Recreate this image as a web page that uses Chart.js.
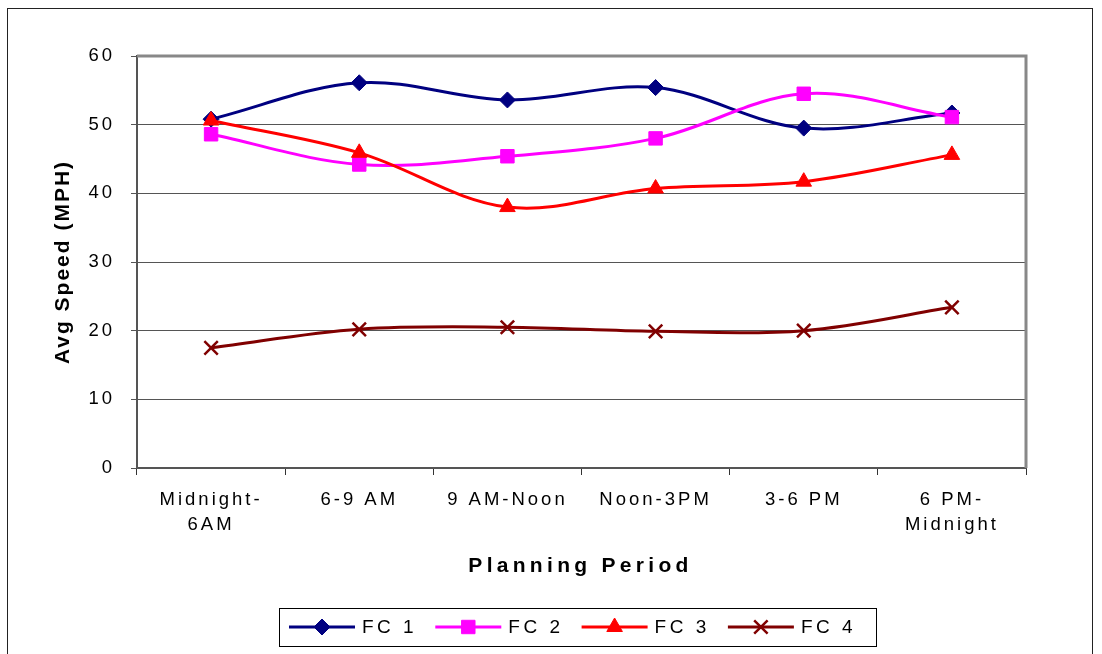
<!DOCTYPE html>
<html>
<head>
<meta charset="utf-8">
<script src="https://cdn.jsdelivr.net/npm/chart.js@4.4.0/dist/chart.umd.min.js"></script>
<style>
    html, body { margin: 0; padding: 0; background: #fff; }
    canvas { display: block; }
</style>
</head>
<body>
<canvas id="chart" width="1102" height="654"></canvas>
<script>
const periods = [["Midnight-", "6AM"], "6-9 AM", "9 AM-Noon", "Noon-3PM", "3-6 PM", ["6 PM-", "Midnight"]];
const seriesNames = ["FC 1", "FC 2", "FC 3", "FC 4"];
const fc1 = [50.8, 56.1, 53.6, 55.4, 49.5, 51.7];
const fc2 = [48.6, 44.2, 45.4, 48.0, 54.5, 51.1];
const fc3 = [50.6, 45.9, 38.0, 40.7, 41.7, 45.6];
const fc4 = [17.5, 20.2, 20.5, 19.9, 20.0, 23.4];
const yMin = 0;
const yMax = 60;
const yStep = 10;
const xTitle = "Planning Period";
const yTitle = "Avg Speed (MPH)";

const FONT = "'Liberation Sans', Arial, sans-serif";

const styles = [
    {color: "#000080", pointStyle: "rectRot", radius: 8, border: 1},
    {color: "#FF00FF", pointStyle: "rect", radius: 9.5, border: 1},
    {color: "#FF0000", pointStyle: "triangle", radius: 9, border: 1},
    {color: "#800000", pointStyle: "crossRot", radius: 9.5, border: 2.5}
];

function makeDataset(i, values) {
    const s = styles[i];
    return {
        label: seriesNames[i],
        data: values,
        borderColor: s.color,
        backgroundColor: s.color,
        borderWidth: 3,
        tension: 0.35,
        pointStyle: s.pointStyle,
        pointRadius: s.radius,
        pointHoverRadius: s.radius,
        pointBackgroundColor: s.color,
        pointBorderColor: s.color,
        pointBorderWidth: s.border,
        order: 4 - i
    };
}

const framePlugin = {
    id: "frame",
    beforeInit(chart) {
        chart.ctx.letterSpacing = "3px";
    },
    beforeDraw(chart) {
        chart.ctx.letterSpacing = "3px";
    },
    afterDraw(chart) {
        const ctx = chart.ctx;
        const area = chart.chartArea;
        ctx.save();

        // plot area top/right border
        ctx.strokeStyle = "#888888";
        ctx.lineWidth = 3;
        ctx.beginPath();
        ctx.moveTo(area.left, area.top);
        ctx.lineTo(area.right, area.top);
        ctx.lineTo(area.right, area.bottom);
        ctx.stroke();

        // outer frame
        ctx.strokeStyle = "#222";
        ctx.lineWidth = 1;
        ctx.strokeRect(7.5, 8.5, 1085, 700);

        // axis titles
        ctx.fillStyle = "#000";
        ctx.font = "bold 21px " + FONT;
        ctx.textAlign = "center";
        ctx.textBaseline = "middle";
        ctx.letterSpacing = "4.3px";
        ctx.fillText(xTitle, (area.left + area.right) / 2 - 1, 566);

        ctx.letterSpacing = "2px";
        ctx.save();
        ctx.translate(63, (area.top + area.bottom) / 2);
        ctx.rotate(-Math.PI / 2);
        ctx.fillText(yTitle, 0, 0);
        ctx.restore();

        // legend
        const boxLeft = 279, boxTop = 608, boxW = 597, boxH = 38;
        ctx.strokeStyle = "#000";
        ctx.lineWidth = 1;
        ctx.strokeRect(boxLeft + 0.5, boxTop + 0.5, boxW, boxH);

        const cy = boxTop + boxH / 2;
        ctx.font = "19px " + FONT;
        ctx.letterSpacing = "3.5px";
        ctx.textAlign = "left";
        chart.data.datasets.forEach((ds, i) => {
            const x0 = boxLeft + 10 + i * 146.3;
            ctx.strokeStyle = ds.borderColor;
            ctx.lineWidth = 3;
            ctx.beginPath();
            ctx.moveTo(x0, cy);
            ctx.lineTo(x0 + 66, cy);
            ctx.stroke();
            ctx.fillStyle = ds.pointBackgroundColor;
            ctx.strokeStyle = ds.pointBorderColor;
            ctx.lineWidth = ds.pointBorderWidth;
            Chart.helpers.drawPoint(ctx, {
                pointStyle: ds.pointStyle,
                radius: ds.pointRadius,
                rotation: 0,
                borderWidth: ds.pointBorderWidth
            }, x0 + 33, cy);
            ctx.fillStyle = "#000";
            ctx.fillText(ds.label, x0 + 73, cy + 1);
        });

        ctx.restore();
        ctx.letterSpacing = "3px";
    }
};

const config = {
    type: "line",
    data: {
        labels: periods,
        datasets: [
            makeDataset(0, fc1),
            makeDataset(1, fc2),
            makeDataset(2, fc3),
            makeDataset(3, fc4)
        ]
    },
    options: {
        responsive: false,
        animation: false,
        events: [],
        layout: {
            padding: {left: 0, top: 56, right: 76, bottom: 0}
        },
        plugins: {
            legend: {display: false},
            tooltip: {enabled: false}
        },
        scales: {
            x: {
                type: "category",
                offset: true,
                afterFit(scale) { scale.height = 186; },
                grid: {
                    offset: true,
                    drawOnChartArea: false,
                    drawTicks: true,
                    tickLength: 7,
                    color: "#333"
                },
                border: {color: "#555", width: 2},
                ticks: {
                    color: "#000",
                    autoSkip: false,
                    maxRotation: 0,
                    padding: 12,
                    font: {family: FONT, size: 18.5, lineHeight: 1.35}
                }
            },
            y: {
                min: yMin,
                max: yMax,
                afterFit(scale) { scale.width = 137; },
                grid: {
                    color: "#555",
                    lineWidth: 1,
                    drawTicks: true,
                    tickLength: 6
                },
                border: {color: "#555", width: 2},
                ticks: {
                    stepSize: yStep,
                    color: "#000",
                    padding: 16,
                    font: {family: FONT, size: 18.5}
                }
            }
        }
    },
    plugins: [framePlugin]
};

const mainChart = new Chart(document.getElementById("chart"), config);
</script>
</body>
</html>
